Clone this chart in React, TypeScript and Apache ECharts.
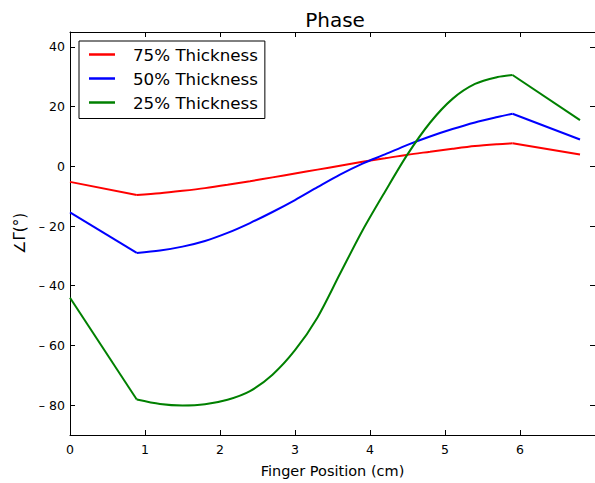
import React, { useEffect, useRef } from "react";
import * as echarts from "echarts";

// Finger position (cm)
const positions = [0, 0.89, 1.2, 1.5, 1.8, 2.1, 2.4, 2.7, 3.0, 3.3, 3.6, 3.9, 4.2, 4.5, 4.8, 5.1, 5.4, 5.7, 5.9, 6.8];
// Phase (deg)
const thickness75 = [-5.2, -9.6, -9.0, -8.2, -7.3, -6.2, -5.0, -3.7, -2.4, -1.1, 0.2, 1.5, 2.7, 3.9, 4.9, 5.9, 6.8, 7.4, 7.7, 4.0];
const thickness50 = [-15.4, -29.0, -28.2, -26.9, -25.0, -22.3, -19.0, -15.3, -11.3, -7.0, -2.8, 0.9, 4.0, 7.2, 10.0, 12.5, 14.7, 16.5, 17.6, 9.0];
const thickness25 = [-44.0, -78.1, -79.6, -80.1, -79.7, -78.2, -75.3, -69.8, -61.6, -50.6, -36.0, -21.5, -8.5, 4.0, 14.6, 22.6, 27.6, 29.9, 30.6, 15.5];

const seriesNames = ["75% Thickness", "50% Thickness", "25% Thickness"];
const seriesColors = ["#ff0000", "#0000ff", "#008000"];
const xTicks = [0, 1, 2, 3, 4, 5, 6];
const yTicks = [-80, -60, -40, -20, 0, 20, 40];

// indices where the curves have a sharp corner (first and last kink)
const firstKink = 1;
const lastKink = 18;

const FONT = "DejaVu Sans";

export default function App() {
  const ref = useRef<HTMLDivElement>(null);
  useEffect(() => {
    if (!ref.current) return;
    const chart = echarts.init(ref.current, undefined, { renderer: "svg" });
    const seriesData = [thickness75, thickness50, thickness25];
    const axisLine = { show: true, onZero: false, lineStyle: { color: "#000", width: 1 } };
    const tick = (vals: number[]) => ({
      show: true,
      inside: true,
      length: 5,
      customValues: vals,
      lineStyle: { color: "#000", width: 1 },
    });
    const fmtY = (v: number) => (v < 0 ? "\u2013 " + Math.abs(v) : String(v));
    const pts = (k: number) => positions.map((x, i) => [x, seriesData[k][i]]);
    const segments: any[] = [];
    seriesNames.forEach((name, k) => {
      const p = pts(k);
      const parts: [number[][], boolean][] = [
        [p.slice(0, firstKink + 1), false],
        [p.slice(firstKink, lastKink + 1), true],
        [p.slice(lastKink), false],
      ];
      parts.forEach(([data, smooth]) => {
        segments.push({
          name,
          type: "line",
          xAxisIndex: 0,
          yAxisIndex: 0,
          showSymbol: false,
          symbol: "none",
          smooth: smooth ? 0.3 : false,
          color: seriesColors[k],
          lineStyle: { color: seriesColors[k], width: 2 },
          data,
          clip: true,
        });
      });
    });
    chart.setOption({
      animation: false,
      backgroundColor: "#fff",
      title: {
        text: "Phase",
        left: 335,
        top: 10,
        padding: 0,
        textAlign: "center",
        textStyle: { fontFamily: FONT, fontSize: 20, fontWeight: "normal", color: "#000" },
      },
      legend: {
        orient: "vertical",
        left: 79,
        top: 41,
        padding: [5, 7, 7.5, 10],
        itemGap: 7,
        itemWidth: 26,
        itemHeight: 2.5,
        icon: "rect",
        borderColor: "#000",
        borderWidth: 1,
        borderRadius: 0,
        backgroundColor: "#fff",
        data: seriesNames,
        textStyle: {
          fontFamily: FONT,
          fontSize: 16.7,
          lineHeight: 17,
          color: "#000",
          padding: [0, 0, 0, 13],
        },
        z: 10,
      },
      grid: { left: 70, top: 32, width: 529, height: 411, containLabel: false },
      xAxis: [
        {
          type: "value",
          min: 0,
          max: 7,
          axisLine,
          axisTick: tick(xTicks),
          axisLabel: {
            customValues: xTicks,
            margin: 8,
            fontFamily: FONT,
            fontSize: 12.5,
            color: "#000",
          },
          splitLine: { show: false },
          name: "Finger Position (cm)",
          nameLocation: "middle",
          nameGap: 28,
          nameTextStyle: { fontFamily: FONT, fontSize: 14.5, color: "#000" },
        },
        {
          type: "value",
          position: "top",
          min: 0,
          max: 7,
          axisLine,
          axisTick: tick(xTicks),
          axisLabel: { show: false },
          splitLine: { show: false },
        },
      ],
      yAxis: [
        {
          type: "value",
          min: -90,
          max: 45,
          axisLine,
          axisTick: tick(yTicks),
          axisLabel: {
            customValues: yTicks,
            margin: 5,
            formatter: fmtY,
            fontFamily: FONT,
            fontSize: 12.5,
            color: "#000",
          },
          splitLine: { show: false },
          name: "\u2220\u0393(\u00b0)",
          nameLocation: "middle",
          nameGap: 32,
          nameTextStyle: { fontFamily: FONT, fontSize: 15, color: "#000" },
        },
        {
          type: "value",
          position: "right",
          min: -90,
          max: 45,
          axisLine,
          axisTick: tick(yTicks),
          axisLabel: { show: false },
          splitLine: { show: false },
        },
      ],
      series: segments,
    });
    return () => chart.dispose();
  }, []);
  return (
    <div
      ref={ref}
      style={{ position: "absolute", left: 0, top: 0, width: 595, height: 483 }}
    />
  );
}
